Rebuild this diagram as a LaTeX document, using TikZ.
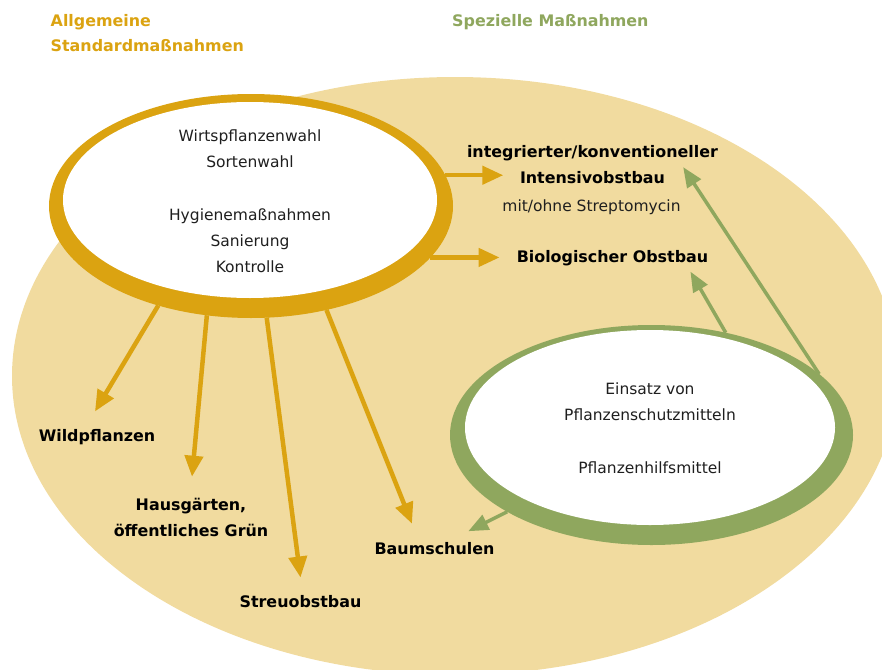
\documentclass[tikz,border=0pt]{standalone}
\usepackage{fontspec}
\setmainfont{DejaVu Sans}
\usepackage{xcolor}
\usepackage{tikz}
\usetikzlibrary{shapes, arrows.meta, positioning, calc}

\definecolor{gold}{RGB}{219,163,17}
\definecolor{sand}{RGB}{241,219,159}
\definecolor{moss}{RGB}{143,167,94}

\begin{document}
\begin{tikzpicture}[x=1pt, y=-1pt,
					ring/.style={ellipse, inner sep=0pt, outer sep=0pt},
					core/.style={ellipse, fill=white, inner sep=0pt, outer sep=0pt},
					memo/.style={align=center, inner sep=0pt, text=black!88, font=\fontsize{15.5}{26}\selectfont},
					target/.style={align=center, inner sep=2pt, text=black, font=\fontsize{15.9}{25.7}\selectfont\bfseries},
					heading/.style={align=left, inner sep=0pt, anchor=base west, font=\fontsize{15.9}{25}\selectfont\bfseries},
					goldarrow/.style={-{Triangle[length=21pt,width=18pt]}, draw=gold, fill=gold, line width=4.5pt},
					greenarrow/.style={-{Triangle[length=20pt,width=16pt]}, draw=moss, fill=moss, line width=3.5pt}
				]
					\useasboundingbox (0,0) rectangle (882,669);

					% Nodes
					\node[ellipse, fill=sand, minimum width=886pt, minimum height=598pt] (field) at (455,376) {};

					\node[ring, fill=gold, minimum width=404pt, minimum height=224pt] (stdring) at (251,206) {};
					\node[core, minimum width=374pt, minimum height=196pt] (stdcore) at (250,200) {};
					\node[memo] (stdtext) at (250,201) {Wirtspflanzenwahl\\Sortenwahl\\[27.3pt]Hygienemaßnahmen\\Sanierung\\Kontrolle};

					\node[ring, fill=moss, minimum width=403pt, minimum height=220pt] (specring) at (651.5,435) {};
					\node[core, minimum width=370pt, minimum height=195pt] (speccore) at (650,427.5) {};
					\node[memo] (spectext) at (650,428) {Einsatz von\\Pflanzenschutzmitteln\\[26.7pt]Pflanzenhilfsmittel};

					\node[heading, text=gold] (general) at (50.5,51.7) {Allgemeine\\Standardmaßnahmen};
					\node[heading, text=moss] (special) at (452,26.7) {Spezielle Maßnahmen};

					\node[target, anchor=base] (intkonv) at (592.5,157) {integrierter/konventioneller};
					\node[target, anchor=base] (intbau) at (592.5,183) {Intensivobstbau};
					\node[memo, anchor=base] (strepto) at (591.5,211) {mit/ohne Streptomycin};
					\node[target, anchor=base] (biolog) at (612.5,262) {Biologischer Obstbau};
					\node[target, anchor=base] (wild) at (97,441.7) {Wildpflanzen};
					\node[target, anchor=north] (hausg) at (191,496.2) {Hausgärten,\\öffentliches Grün};
					\node[target, anchor=base] (streu) at (300.5,607.3) {Streuobstbau};
					\node[target, anchor=base] (baum) at (434.5,554) {Baumschulen};

					% Arrows
					\draw[goldarrow, shorten >=14.5pt] (stdring.9) -- (stdring.9 -| intbau.west);
					\draw[goldarrow, shorten >=15pt] (stdring.-16) -- (stdring.-16 -| biolog.west);
					\draw[goldarrow] (stdring.227) -- ([xshift=-2pt, yshift=16pt]wild.north);
					\draw[goldarrow] (stdring.248) -- ([xshift=1pt, yshift=19.5pt]hausg.north);
					\draw[goldarrow] (stdring.278) -- ([yshift=15.5pt]streu.north);
					\draw[goldarrow] (stdring.306) -- ([xshift=-22.5pt, yshift=16pt]baum.north);

					\draw[greenarrow] (specring.20) -- ([xshift=-37pt, yshift=-4.5pt]intkonv.south east);
					\draw[greenarrow] (specring.54) -- ([xshift=-20pt, yshift=-4pt]biolog.south east);
					\draw[greenarrow] (specring.208) -- ([xshift=33.8pt, yshift=8.5pt]baum.north);
				\end{tikzpicture}
\end{document}
